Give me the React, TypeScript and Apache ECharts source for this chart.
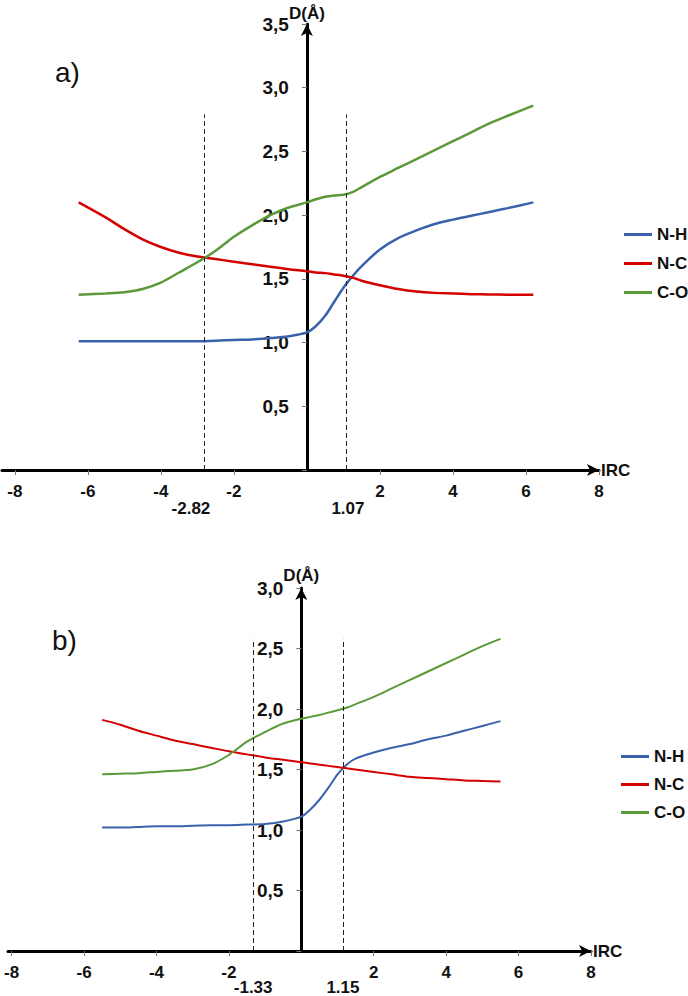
import React, { useEffect, useRef } from "react";
import * as echarts from "echarts";

// Panel a
const ircA = [-6.25, -5.5, -5, -4.5, -4, -3.5, -3, -2.5, -2, -1.5, -1, -0.5, 0, 0.25, 0.5, 0.75, 1, 1.25, 1.5, 2, 2.5, 3, 3.5, 4, 4.5, 5, 5.5, 6.2];
const nhA = [1.01, 1.01, 1.01, 1.01, 1.01, 1.01, 1.01, 1.015, 1.02, 1.025, 1.035, 1.05, 1.08, 1.13, 1.21, 1.32, 1.43, 1.52, 1.6, 1.73, 1.82, 1.88, 1.93, 1.965, 1.995, 2.025, 2.055, 2.1];
const ncA = [2.1, 1.98, 1.89, 1.81, 1.75, 1.705, 1.675, 1.655, 1.635, 1.615, 1.595, 1.575, 1.56, 1.55, 1.545, 1.535, 1.525, 1.51, 1.485, 1.45, 1.42, 1.4, 1.39, 1.385, 1.38, 1.378, 1.376, 1.375];
const coA = [1.375, 1.385, 1.395, 1.42, 1.47, 1.55, 1.63, 1.72, 1.83, 1.92, 2.0, 2.06, 2.1, 2.125, 2.145, 2.155, 2.16, 2.18, 2.22, 2.3, 2.37, 2.44, 2.51, 2.58, 2.65, 2.72, 2.78, 2.86];
const marksA = [-2.82, 1.07];
const markTopA = 2.79;

// Panel b
const ircB = [-5.5, -5, -4.5, -4, -3.5, -3, -2.5, -2, -1.5, -1, -0.5, 0, 0.25, 0.5, 0.75, 1, 1.25, 1.5, 2, 2.5, 3, 3.5, 4, 4.5, 5, 5.5];
const nhB = [1.02, 1.02, 1.025, 1.03, 1.03, 1.035, 1.04, 1.04, 1.045, 1.05, 1.07, 1.11, 1.17, 1.25, 1.35, 1.46, 1.54, 1.59, 1.64, 1.68, 1.71, 1.75, 1.78, 1.82, 1.86, 1.9];
const ncB = [1.91, 1.87, 1.82, 1.78, 1.74, 1.71, 1.68, 1.65, 1.625, 1.6, 1.58, 1.56, 1.55, 1.54, 1.53, 1.52, 1.51, 1.5, 1.48, 1.46, 1.44, 1.43, 1.42, 1.41, 1.405, 1.4];
const coB = [1.46, 1.465, 1.47, 1.48, 1.49, 1.5, 1.54, 1.62, 1.73, 1.81, 1.88, 1.92, 1.935, 1.95, 1.97, 1.99, 2.01, 2.04, 2.1, 2.17, 2.24, 2.31, 2.38, 2.45, 2.52, 2.58];
const marksB = [-1.33, 1.15];
const markTopB = 2.58;

const xTicks = [-8, -6, -4, -2, 2, 4, 6, 8];
const seriesNames = ["N-H", "N-C", "C-O"];
const colors = ["#3a62ac", "#d40000", "#5b9a38"];

const FONT = "'Liberation Sans', Arial, sans-serif";
const FS = 17;

const zip = (xs: number[], ys: number[]) => xs.map((x, i) => [x, ys[i]]);

type GridBox = { left: number; width: number; top: number; height: number; xMin: number; yMax: number };

const gridA: GridBox = { left: 2, width: 597, top: 24, height: 446, xMin: -8.35, yMax: 3.5 };
const gridB: GridBox = { left: 8, width: 583, top: 588, height: 363, xMin: -8.1, yMax: 3.0 };

function makeXAxis(gridIndex: number, g: GridBox) {
  return {
    type: "value",
    gridIndex,
    min: g.xMin,
    max: 8,
    name: "IRC",
    nameLocation: "end",
    nameGap: 2,
    nameMoveOverlap: false,
    nameTextStyle: { fontFamily: FONT, fontWeight: "bold", fontSize: FS, color: "#111" },
    axisLine: {
      show: true,
      onZero: false,
      symbol: ["none", "arrow"],
      symbolSize: [9, 12],
      lineStyle: { color: "#000", width: 3 },
    },
    axisTick: { show: true, length: 5, customValues: xTicks, lineStyle: { color: "#777", width: 1 } },
    axisLabel: {
      show: true,
      customValues: xTicks,
      margin: 13,
      fontFamily: FONT,
      fontWeight: "bold",
      fontSize: FS,
      color: "#111",
    },
    splitLine: { show: false },
  };
}

function makeYAxis(gridIndex: number, g: GridBox, nameGap: number) {
  // shift the axis so it sits on IRC = 0
  const shift = (g.width * (0 - g.xMin)) / (8 - g.xMin);
  return {
    type: "value",
    gridIndex,
    position: "left",
    offset: -shift,
    min: 0,
    max: g.yMax,
    interval: 0.5,
    name: "D(Å)",
    nameLocation: "end",
    nameGap,
    nameMoveOverlap: false,
    nameTextStyle: {
      fontFamily: FONT,
      fontWeight: "bold",
      fontSize: FS,
      color: "#111",
      align: "center",
      verticalAlign: "bottom",
    },
    axisLine: {
      show: true,
      onZero: false,
      symbol: ["none", "arrow"],
      symbolSize: [9, 12],
      lineStyle: { color: "#000", width: 3 },
    },
    axisTick: { show: true, length: 5, lineStyle: { color: "#777", width: 1 } },
    axisLabel: {
      show: true,
      margin: 18,
      fontFamily: FONT,
      fontWeight: "bold",
      fontSize: 19,
      color: "#111",
      formatter: (v: number) => (v === 0 ? "" : v.toFixed(1).replace(".", ",")),
    },
    splitLine: { show: false },
  };
}

function makeSeries(
  axisIndex: number,
  xs: number[],
  ys: number[][],
  marks: number[],
  markTop: number,
  width: number,
  labelDx: number[],
  labelDy: number
) {
  return ys.map((vals, i) => {
    const s: any = {
      type: "line",
      name: seriesNames[i],
      xAxisIndex: axisIndex,
      yAxisIndex: axisIndex,
      data: zip(xs, vals),
      smooth: 0.3,
      symbol: "none",
      lineStyle: { color: colors[i], width },
      itemStyle: { color: colors[i] },
      z: 3,
    };
    if (i === 0) {
      s.markLine = {
        silent: true,
        symbol: ["none", "none"],
        label: { show: false },
        lineStyle: { type: [5, 3], color: "#222", width: 1 },
        data: marks.map((m) => [{ coord: [m, 0] }, { coord: [m, markTop] }]),
      };
      s.markPoint = {
        silent: true,
        symbol: "circle",
        symbolSize: 0,
        data: marks.map((m, k) => ({
          coord: [m, 0],
          value: m,
          label: {
            show: true,
            formatter: m.toFixed(2),
            offset: [labelDx[k], labelDy],
            fontFamily: FONT,
            fontWeight: "bold",
            fontSize: FS,
            color: "#111",
          },
        })),
      };
    }
    return s;
  });
}

export default function App() {
  const ref = useRef<HTMLDivElement>(null);

  useEffect(() => {
    if (!ref.current) return;
    const chart = echarts.init(ref.current, undefined, { renderer: "svg" });
    const legendCommon = {
      orient: "vertical",
      itemWidth: 28,
      itemHeight: 3,
      icon: "rect",
      textStyle: { fontFamily: FONT, fontWeight: "bold", fontSize: FS, color: "#111" },
      data: seriesNames,
      selectedMode: false,
    };
    const gridOf = (g: GridBox) => ({
      left: g.left,
      width: g.width,
      top: g.top,
      height: g.height,
      containLabel: false,
      outerBoundsMode: "none",
    });
    chart.setOption({
      animation: false,
      backgroundColor: "#fff",
      grid: [gridOf(gridA), gridOf(gridB)],
      xAxis: [makeXAxis(0, gridA), makeXAxis(1, gridB)],
      yAxis: [makeYAxis(0, gridA, 2), makeYAxis(1, gridB, 4)],
      legend: [
        { ...legendCommon, left: 619, top: 221, itemGap: 12 },
        { ...legendCommon, left: 616, top: 743, itemGap: 11 },
      ],
      graphic: [
        { type: "text", left: 55, top: 58, style: { text: "a)", font: `28px ${FONT}`, fill: "#111" } },
        { type: "text", left: 52, top: 626, style: { text: "b)", font: `28px ${FONT}`, fill: "#111" } },
      ],
      series: [
        ...makeSeries(0, ircA, [nhA, ncA, coA], marksA, markTopA, 2.5, [-13, 2], 38),
        ...makeSeries(1, ircB, [nhB, ncB, coB], marksB, markTopB, 2, [0, 0], 36),
      ],
    });
    return () => chart.dispose();
  }, []);

  return (
    <div
      ref={ref}
      style={{ position: "absolute", left: 0, top: 0, width: 688, height: 996, background: "#fff" }}
    />
  );
}
